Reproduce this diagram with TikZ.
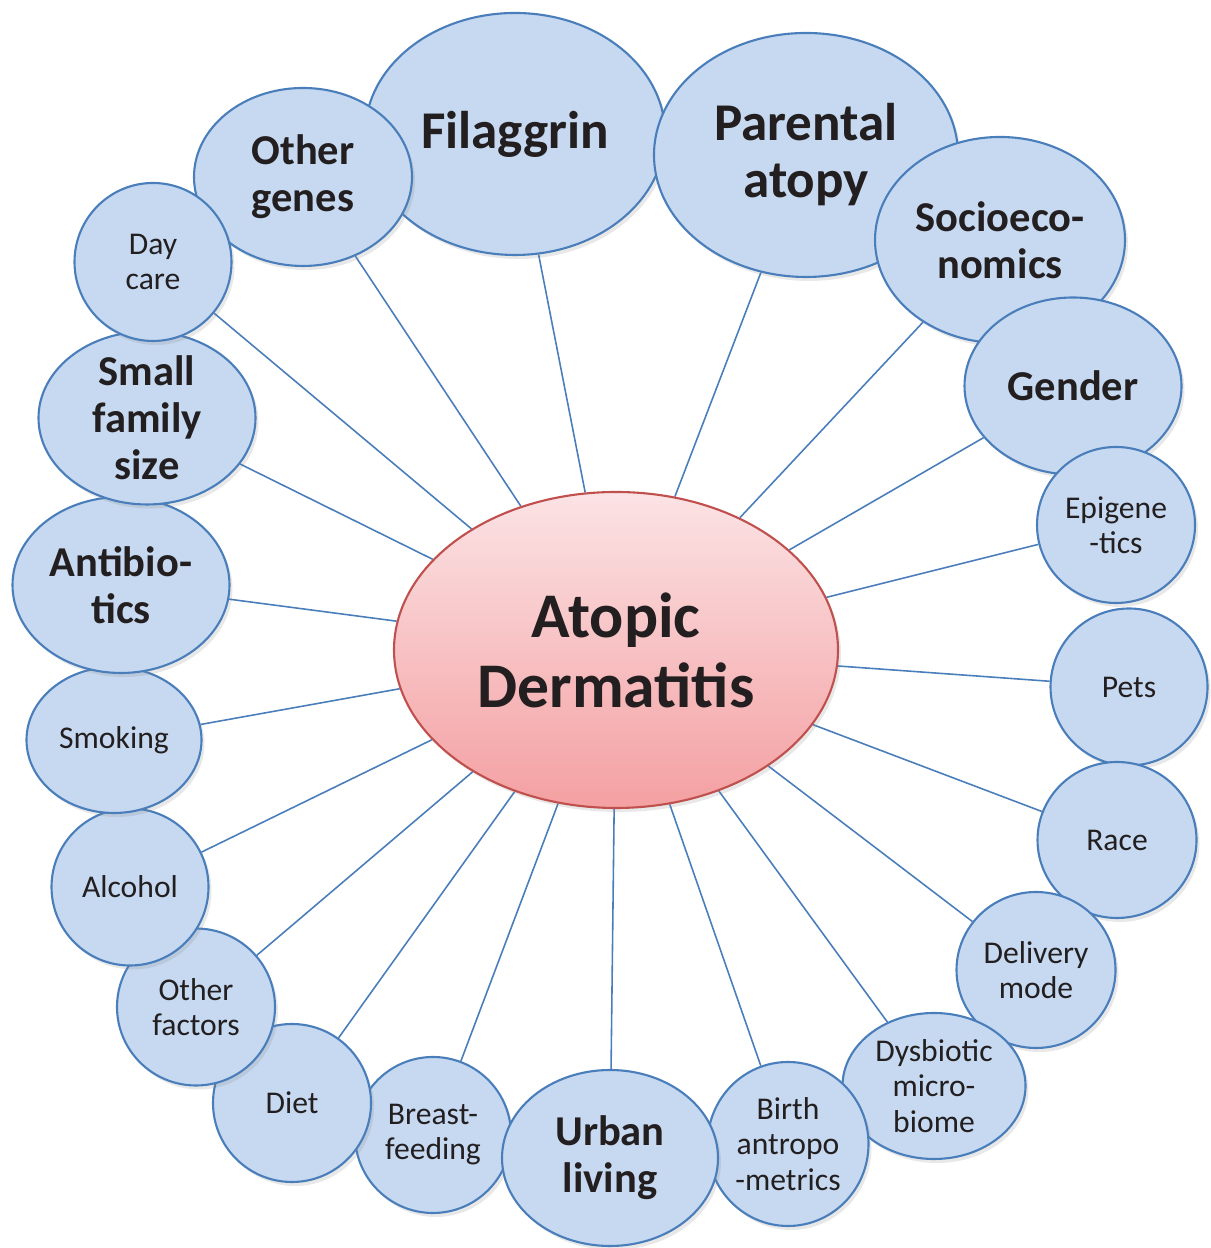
\documentclass[tikz,border=0pt]{standalone}
\usepackage{fontspec}
\setmainfont{Carlito}
\usetikzlibrary{shapes.geometric,shadows,backgrounds}
\definecolor{kaiblue}{RGB}{198,217,240}
\definecolor{kaiedge}{RGB}{74,126,187}
\definecolor{adtop}{RGB}{251,227,229}
\definecolor{adbot}{RGB}{244,160,162}
\definecolor{adedge}{RGB}{192,80,77}
\definecolor{moji}{RGB}{35,31,32}
\begin{document}
\begin{tikzpicture}[
  factor/.style={ellipse, draw=kaiedge, line width=0.6pt, fill=kaiblue, inner xsep=0pt, inner ysep=-1mm, align=center, text=moji,
    drop shadow={shadow xshift=0.03cm, shadow yshift=-0.04cm, opacity=0.18}},
  smallfac/.style={factor, font=\fontsize{9.0}{10}\selectfont},
  boldfac/.style={factor, font=\bfseries\fontsize{12.1}{13.4}\selectfont},
  largefac/.style={factor, font=\bfseries\fontsize{15.1}{16.2}\selectfont},
  spoke/.style={draw=kaiedge, line width=0.45pt}
]
  \useasboundingbox (0,0) rectangle (12.10,12.48);

  \node[ellipse, draw=adedge, line width=0.6pt, top color=adtop, bottom color=adbot, inner sep=0pt, align=center, text=moji,
    font=\bfseries\fontsize{18.1}{19.9}\selectfont, minimum width=4.44cm, minimum height=3.16cm,
    drop shadow={shadow xshift=0.03cm, shadow yshift=-0.04cm, opacity=0.18}] (ad) at (6.16,5.98) {Atopic\\Dermatitis}; %中心の楕円

  \node[largefac, minimum width=3.00cm, minimum height=2.42cm] (fil) at (5.15,11.14) {Filaggrin};
  \node[largefac, minimum width=3.04cm, minimum height=2.44cm] (par) at (8.06,10.93) {Parental\\atopy};
  \node[boldfac, minimum width=2.50cm, minimum height=2.06cm] (soc) at (10.00,10.08) {Socioeco-\\nomics};
  \node[boldfac, minimum width=2.17cm, minimum height=1.77cm] (gen) at (10.73,8.62) {Gender};
  \node[smallfac, minimum width=1.58cm, minimum height=1.56cm] (epi) at (11.16,7.23) {Epigene\\-tics};
  \node[smallfac, minimum width=1.57cm, minimum height=1.57cm] (pet) at (11.29,5.61) {Pets};
  \node[smallfac, minimum width=1.59cm, minimum height=1.56cm] (rac) at (11.17,4.08) {Race};
  \node[smallfac, minimum width=1.59cm, minimum height=1.56cm] (del) at (10.36,2.78) {Delivery\\mode};
  \node[smallfac, minimum width=1.83cm, minimum height=1.46cm] (dys) at (9.34,1.62) {Dysbiotic\\micro-\\biome};
  \node[smallfac, minimum width=1.61cm, minimum height=1.64cm] (bir) at (7.88,1.04) {Birth\\antropo\\-metrics}; %右側
  \node[smallfac, minimum width=1.56cm, minimum height=1.56cm] (bre) at (4.33,1.13) {Breast-\\feeding};
  \node[boldfac, minimum width=2.16cm, minimum height=1.76cm] (urb) at (6.10,0.90) {Urban\\living};
  \node[smallfac, minimum width=1.58cm, minimum height=1.58cm] (die) at (2.92,1.45) {Diet};
  \node[smallfac, minimum width=1.58cm, minimum height=1.57cm] (oth) at (1.96,2.41) {Other\\factors};
  \node[smallfac, minimum width=1.57cm, minimum height=1.57cm] (alc) at (1.30,3.61) {Alcohol};
  \node[smallfac, minimum width=1.75cm, minimum height=1.46cm] (smo) at (1.14,5.08) {Smoking};
  \node[boldfac, minimum width=2.17cm, minimum height=1.76cm] (ant) at (1.21,6.63) {Antibio-\\tics};
  \node[boldfac, minimum width=2.17cm, minimum height=1.73cm, inner ysep=-3mm] (sma) at (1.47,8.30) {Small\\family\\size};
  \node[boldfac, minimum width=2.18cm, minimum height=1.78cm] (oge) at (3.03,10.71) {Other\\genes};
  \node[smallfac, minimum width=1.57cm, minimum height=1.58cm] (day) at (1.53,9.86) {Day\\care}; %左側

  \begin{scope}[on background layer]
  \draw[spoke] (ad) -- (fil);
  \draw[spoke] (ad) -- (par);
  \draw[spoke] (ad) -- (soc);
  \draw[spoke] (ad) -- (gen);
  \draw[spoke] (ad) -- (epi);
  \draw[spoke] (ad) -- (pet);
  \draw[spoke] (ad) -- (rac);
  \draw[spoke] (ad) -- (del);
  \draw[spoke] (ad) -- (dys);
  \draw[spoke] (ad) -- (bir);
  \draw[spoke] (ad) -- (urb);
  \draw[spoke] (ad) -- (bre);
  \draw[spoke] (ad) -- (die);
  \draw[spoke] (ad) -- (oth);
  \draw[spoke] (ad) -- (alc);
  \draw[spoke] (ad) -- (smo);
  \draw[spoke] (ad) -- (ant);
  \draw[spoke] (ad) -- (sma);
  \draw[spoke] (ad) -- (day);
  \draw[spoke] (ad) -- (oge); %放射状の線
  \end{scope}
\end{tikzpicture}
\end{document}
